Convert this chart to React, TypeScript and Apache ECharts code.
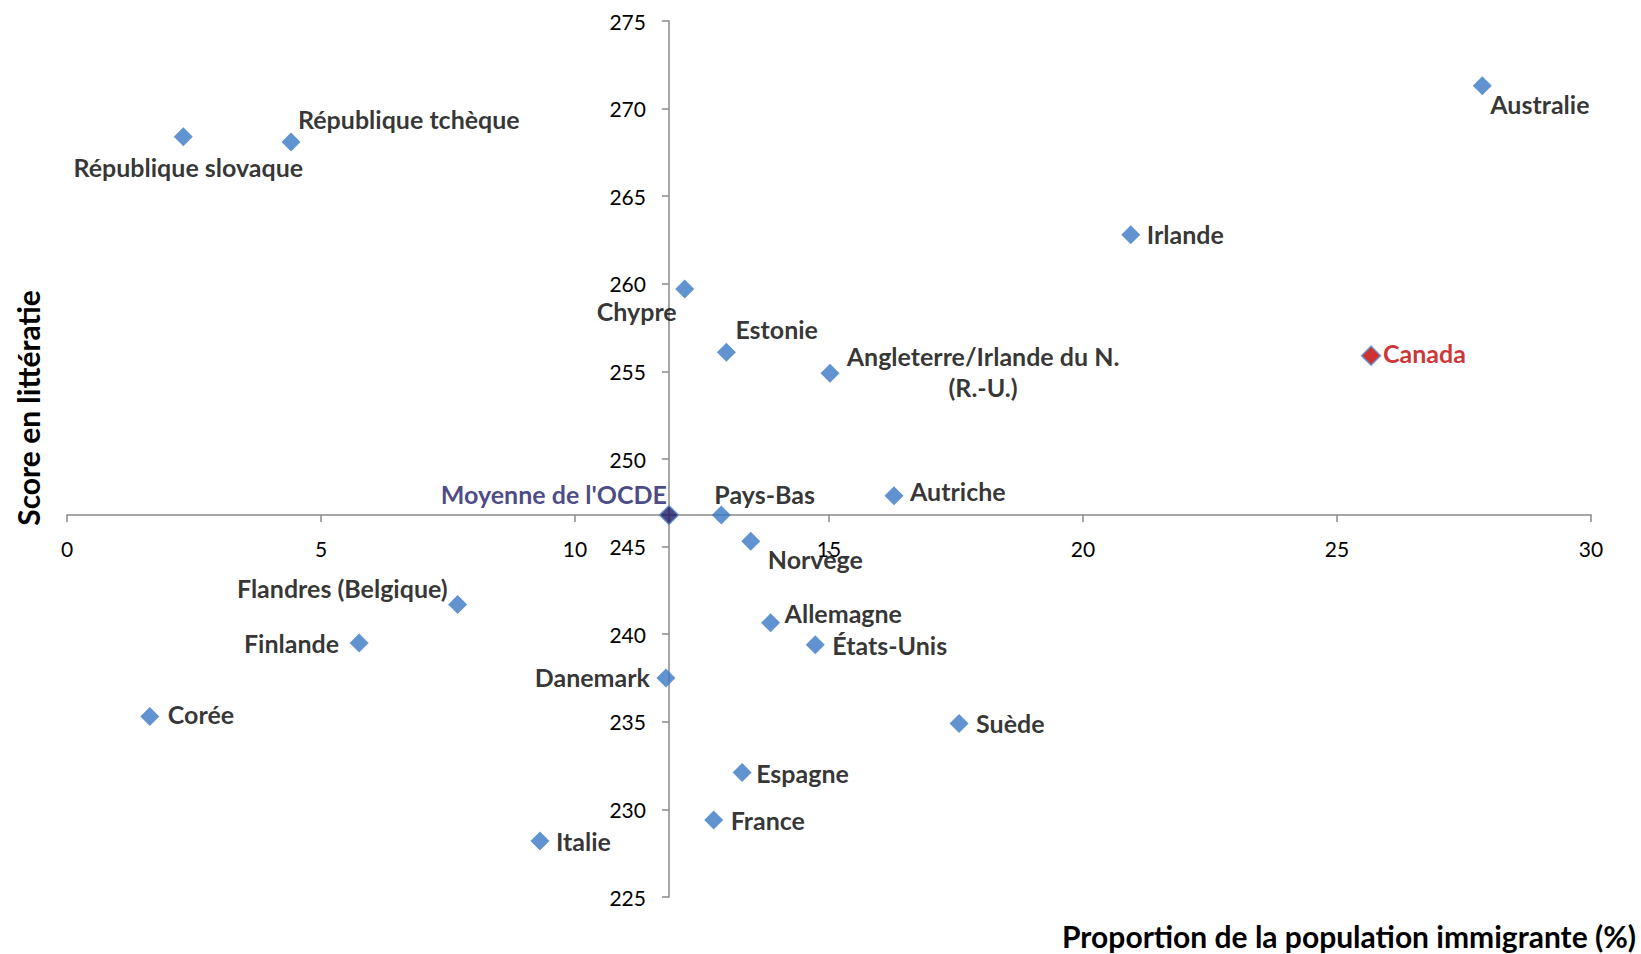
import React, { useEffect, useRef } from "react";
import * as echarts from "echarts";

// ---- Data ----
const countries = [
  "République slovaque",
  "République tchèque",
  "Australie",
  "Irlande",
  "Chypre",
  "Estonie",
  "Angleterre/Irlande du N.\n(R.-U.)",
  "Canada",
  "Autriche",
  "Pays-Bas",
  "Norvège",
  "Flandres (Belgique)",
  "Allemagne",
  "Finlande",
  "États-Unis",
  "Danemark",
  "Corée",
  "Suède",
  "Espagne",
  "France",
  "Italie",
];
const immigrantShare = [
  2.29, 4.41, 27.86, 20.94, 12.16, 12.98, 15.02, 25.67, 16.28, 12.88, 13.46,
  7.69, 13.85, 5.75, 14.73, 11.79, 1.63, 17.56, 13.29, 12.73, 9.31,
];
const literacyScore = [
  268.4, 268.1, 271.3, 262.8, 259.7, 256.1, 254.9, 255.9, 247.9, 246.8, 245.3,
  241.7, 240.65, 239.5, 239.4, 237.5, 235.3, 234.9, 232.1, 229.4, 228.2,
];
const oecdLabel = "Moyenne de l'OCDE";
const oecdShare = 11.85;
const oecdScore = 246.8;

const xTicks = { min: 0, max: 30, interval: 5 };
const yTicks = { min: 225, max: 275, interval: 5 };
const xTitle = "Proportion de la population immigrante (%)";
const yTitle = "Score en littératie";

// ---- Layout / style (not data) ----
const W = 1641;
const H = 954;
const GRID = { left: 67, right: 50, top: 21, bottom: 57 };
const FONT = "Lato";
const BLUE = "#3a78c4";

const labelPlacement: Record<string, { dx: number; dy: number; align: string }> = {
  "République slovaque": { dx: 5, dy: 30, align: "center" },
  "République tchèque": { dx: 7, dy: -23, align: "left" },
  Australie: { dx: 8, dy: 18, align: "left" },
  Irlande: { dx: 16, dy: -1, align: "left" },
  Chypre: { dx: -8, dy: 22, align: "right" },
  Estonie: { dx: 9, dy: -23, align: "left" },
  "Angleterre/Irlande du N.\n(R.-U.)": { dx: 153, dy: -2, align: "center" },
  Canada: { dx: 12, dy: -3, align: "left" },
  Autriche: { dx: 16, dy: -5, align: "left" },
  "Pays-Bas": { dx: -7, dy: -21, align: "left" },
  Norvège: { dx: 17, dy: 18, align: "left" },
  "Flandres (Belgique)": { dx: -10, dy: -16, align: "right" },
  Allemagne: { dx: 14, dy: -10, align: "left" },
  Finlande: { dx: -20, dy: 0, align: "right" },
  "États-Unis": { dx: 17, dy: 0, align: "left" },
  Danemark: { dx: -16, dy: -1, align: "right" },
  Corée: { dx: 18, dy: -3, align: "left" },
  Suède: { dx: 17, dy: -1, align: "left" },
  Espagne: { dx: 14, dy: 0, align: "left" },
  France: { dx: 17, dy: 0, align: "left" },
  Italie: { dx: 16, dy: 0, align: "left" },
  [oecdLabel]: { dx: -2, dy: -21, align: "right" },
};

export default function App() {
  const ref = useRef<HTMLDivElement>(null);

  useEffect(() => {
    if (!ref.current) return;
    const chart = echarts.init(ref.current, undefined, { renderer: "svg" });

    const plotW = W - GRID.left - GRID.right;
    const plotH = H - GRID.top - GRID.bottom;
    const xAxisPixelY =
      GRID.top + ((yTicks.max - oecdScore) / (yTicks.max - yTicks.min)) * plotH;
    const yAxisPixelX =
      GRID.left + ((oecdShare - xTicks.min) / (xTicks.max - xTicks.min)) * plotW;
    const xOffset = xAxisPixelY - (H - GRID.bottom);
    const yOffset = GRID.left - yAxisPixelX;

    const mkLabel = (name: string, color: string) => {
      const p = labelPlacement[name] || { dx: 12, dy: 0, align: "left" };
      return {
        show: true,
        position: ["50%", "50%"],
        offset: [p.dx, p.dy],
        align: p.align,
        verticalAlign: "middle",
        formatter: name,
        fontFamily: FONT,
        fontWeight: "bold",
        fontSize: 25,
        lineHeight: 31,
        color,
      };
    };

    const points = countries.map((name, i) => {
      const isCanada = name === "Canada";
      return {
        name,
        value: [immigrantShare[i], literacyScore[i]],
        itemStyle: isCanada
          ? { color: "#c00000", borderColor: "#5b8fd0", borderWidth: 1.5 }
          : { color: BLUE },
        label: mkLabel(name, isCanada ? "#c00000" : "#000000"),
      };
    });
    points.push({
      name: oecdLabel,
      value: [oecdShare, oecdScore],
      itemStyle: { color: "#1c1a66", borderColor: "#5b8fd0", borderWidth: 1.5 },
      label: mkLabel(oecdLabel, "#1c1a66"),
    });

    const axisCommon = {
      type: "value",
      splitLine: { show: false },
      axisLine: {
        show: true,
        onZero: false,
        lineStyle: { color: "#8a8a8a", width: 1.5 },
      },
      axisTick: { show: true, length: 7, lineStyle: { color: "#8a8a8a", width: 1.5 } },
      axisLabel: { margin: 23, fontSize: 21, color: "#000", fontFamily: FONT },
    };

    chart.setOption({
      animation: false,
      grid: { ...GRID, containLabel: false },
      xAxis: { ...axisCommon, ...xTicks, offset: xOffset },
      yAxis: { ...axisCommon, ...yTicks, offset: yOffset },
      series: [
        {
          type: "scatter",
          symbol: "diamond",
          symbolSize: 19,
          data: points,
          z: 5,
        },
      ],
      graphic: [
        {
          type: "text",
          x: 1636,
          y: 936,
          style: {
            text: xTitle,
            fontFamily: FONT,
            fontWeight: "bold",
            fontSize: 30,
            lineHeight: 30,
            fill: "#000",
            align: "right",
            verticalAlign: "middle",
          },
        },
        {
          type: "text",
          x: 28,
          y: 408,
          rotation: Math.PI / 2,
          style: {
            text: yTitle,
            fontFamily: FONT,
            fontWeight: "bold",
            fontSize: 30,
            fill: "#000",
            align: "center",
            verticalAlign: "middle",
          },
        },
      ],
    });

    return () => chart.dispose();
  }, []);

  return (
    <div
      ref={ref}
      style={{ position: "absolute", left: 0, top: 0, width: W, height: H, background: "#fff" }}
    />
  );
}
